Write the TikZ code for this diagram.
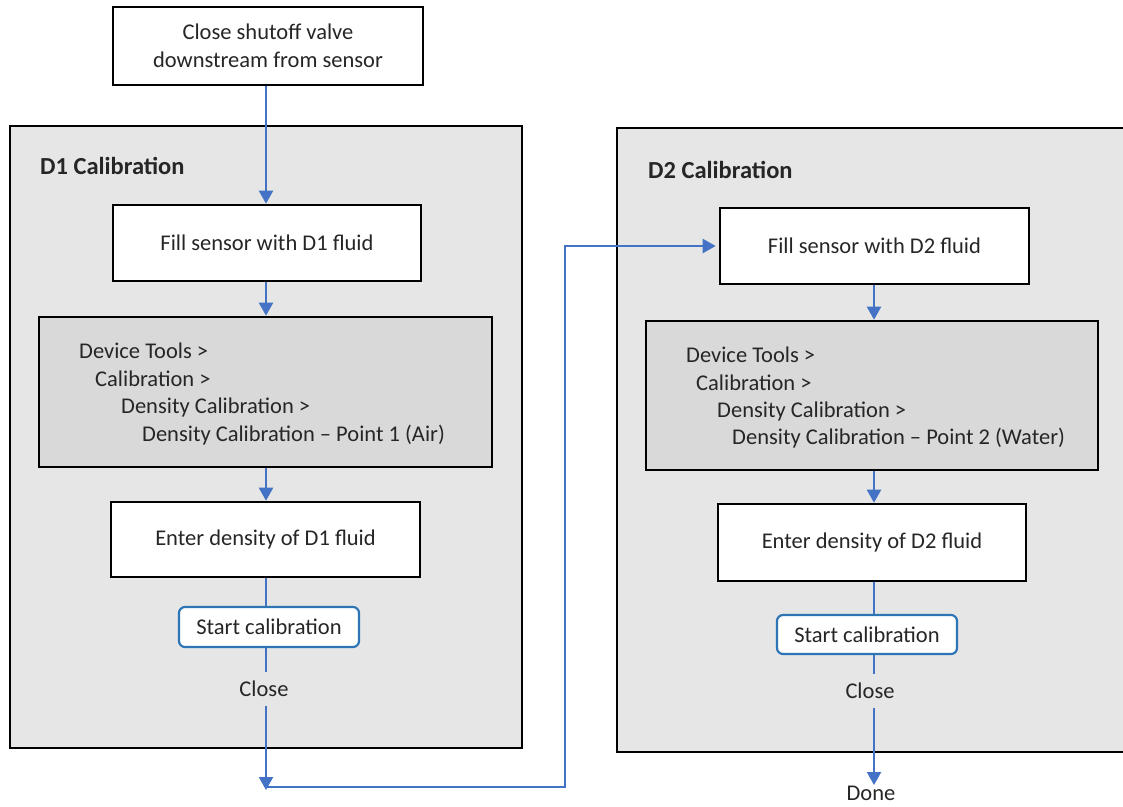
\documentclass[tikz,border=0pt]{standalone}
\usepackage{fontspec}
\setmainfont{Carlito}
\usetikzlibrary{arrows.meta,calc}
\definecolor{arrowblue}{HTML}{4472C4}
\definecolor{btnblue}{HTML}{2E75B6}
\definecolor{framegray}{HTML}{E6E6E6}
\definecolor{devgray}{HTML}{D9D9D9}
\begin{document}
\begin{tikzpicture}[x=1pt,y=-1pt,
  every node/.style={font=\fontsize{22.5}{27.5}\selectfont, text=black!85},
  wbox/.style={draw=black, line width=2.6pt, fill=white, align=center, inner sep=0pt},
  devbox/.style={draw=black, line width=2.6pt, fill=devgray, inner sep=0pt},
  framebox/.style={draw=black, line width=2.6pt, fill=framegray, inner sep=0pt},
  btnbox/.style={draw=btnblue, line width=2.2pt, fill=white, rounded corners=6pt, inner sep=0pt},
  title/.style={font=\fontsize{24.5}{28}\selectfont\bfseries, anchor=base west, inner sep=0pt},
  menu/.style={anchor=base west, inner sep=0pt},
  lbl/.style={inner sep=0pt, minimum height=33pt},
  conn/.style={draw=arrowblue, line width=2.2pt},
  arr/.style={conn, -{Triangle[length=13pt,width=14pt]}}
]
\useasboundingbox (0,0) rectangle (1123,806);
\clip (0,0) rectangle (1123,806);
\fill[white] (0,0) rectangle (1123,806);

% frames
\node[framebox, minimum width=512pt, minimum height=622pt] (f1) at (266,437) {};
\node[framebox, minimum width=520pt, minimum height=624pt] (f2) at (877,440) {};
\node[title] (t1) at (40,174) {D1 Calibration};
\node[title] (t2) at (648,178) {D2 Calibration};

% top box
\node[wbox, minimum width=310pt, minimum height=78pt] (top) at (268,46) {Close shutoff valve\\downstream from sensor};

% D1 column
\node[wbox, minimum width=308pt, minimum height=76pt] (fill1) at (267,243) {Fill sensor with D1 fluid};
\node[devbox, minimum width=453pt, minimum height=150pt] (dev1) at (265.5,392) {};
\node[menu] (m11) at (79,358) {Device Tools >};
\node[menu] (m12) at (95,386) {Calibration >};
\node[menu] (m13) at (121,413) {Density Calibration >};
\node[menu] (m14) at (142,441) {Density Calibration – Point 1 (Air)};
\node[wbox, minimum width=309pt, minimum height=75pt] (enter1) at (265.5,539.5) {Enter density of D1 fluid};
\node[btnbox, minimum width=180pt, minimum height=40pt] (start1) at (269,627) {Start calibration};
\node[lbl] (close1) at (264,689) {Close};
\coordinate (c1) at (266,790);
\coordinate (h1) at (266,787);
\coordinate (h2) at (565,787);

% D2 column
\node[wbox, minimum width=309pt, minimum height=76pt] (fill2) at (874.5,246) {Fill sensor with D2 fluid};
\node[devbox, minimum width=452pt, minimum height=149pt] (dev2) at (872,395.5) {};
\node[menu] (m21) at (686,362) {Device Tools >};
\node[menu] (m22) at (696,390) {Calibration >};
\node[menu] (m23) at (717,417) {Density Calibration >};
\node[menu] (m24) at (732,444) {Density Calibration – Point 2 (Water)};
\node[wbox, minimum width=308pt, minimum height=77pt] (enter2) at (872,542.5) {Enter density of D2 fluid};
\node[btnbox, minimum width=180pt, minimum height=39pt] (start2) at (867,634.5) {Start calibration};
\node[lbl] (close2) at (870,691) {Close};
\node[anchor=north, inner sep=1pt] (done) at (871,785) {Done};

% connectors D1
\draw[arr] (top.south -| 266,0) -- (fill1.north -| 266,0);
\draw[arr] (fill1.south -| 266,0) -- (dev1.north -| 266,0);
\draw[arr] (dev1.south -| 266,0) -- (enter1.north -| 266,0);
\draw[conn] (enter1.south -| 266,0) -- (start1.north -| 266,0);
\draw[conn] (start1.south -| 266,0) -- (close1.north -| 266,0);
\draw[arr] (close1.south -| 266,0) -- (c1);
\draw[arr] (h1) -- (h2) -- (h2 |- fill2.west) -- ([xshift=-3pt]fill2.west);

% connectors D2
\draw[arr] (fill2.south -| 874,0) -- (dev2.north -| 874,0);
\draw[arr] (dev2.south -| 874,0) -- (enter2.north -| 874,0);
\draw[conn] (enter2.south -| 874,0) -- (start2.north -| 874,0);
\draw[conn] (start2.south -| 874,0) -- (close2.north -| 874,0);
\draw[arr] (close2.south -| 874,0) -- (done.north -| 874,0);
\end{tikzpicture}
\end{document}
